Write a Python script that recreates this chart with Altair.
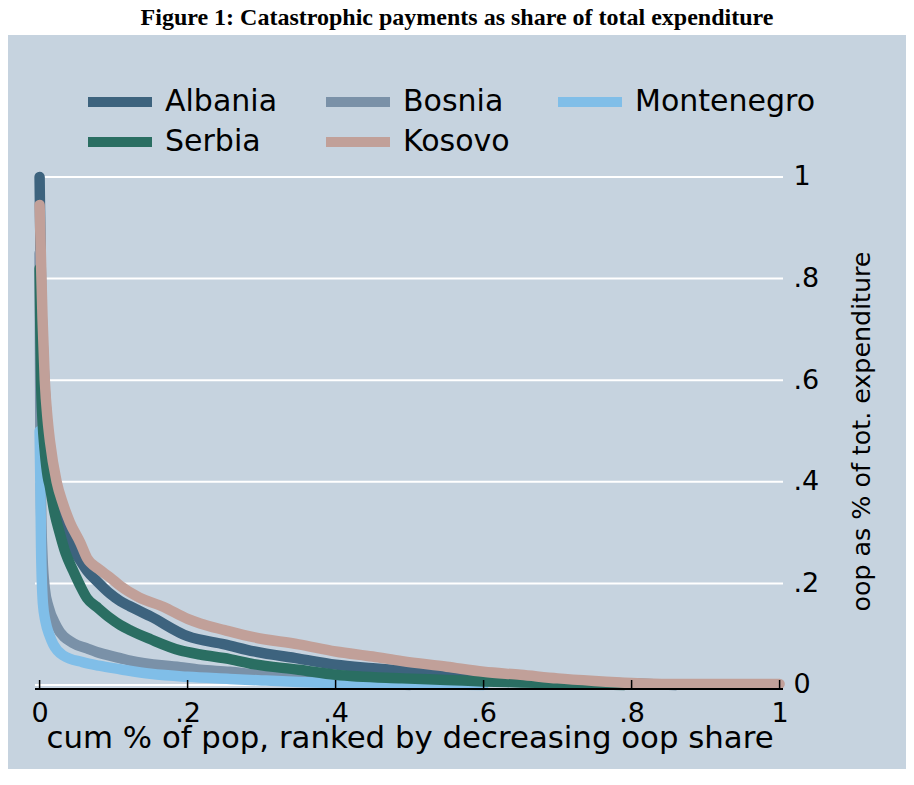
import altair as alt
import pandas as pd

# ---------------- data ----------------
countries = ["Albania", "Bosnia", "Montenegro", "Serbia", "Kosovo"]
colors = ["#3d637e", "#7a91a8", "#80bee8", "#2a6e62", "#c1a099"]

albania_x = [0, 0.001, 0.002, 0.004, 0.007, 0.011, 0.016, 0.023, 0.032, 0.041, 0.055, 0.064,
             0.077, 0.095, 0.109, 0.122, 0.15, 0.2, 0.25, 0.29, 0.35, 0.4, 0.45, 0.49, 0.533,
             0.6, 0.65, 0.7, 0.75, 0.8, 0.86]
albania_y = [1.0, 0.88, 0.78, 0.68, 0.58, 0.5, 0.43, 0.37, 0.32, 0.28, 0.245, 0.225,
             0.205, 0.18, 0.165, 0.155, 0.135, 0.096, 0.08, 0.066, 0.052, 0.04, 0.033, 0.028, 0.022,
             0.014, 0.01, 0.007, 0.005, 0.003, 0.0]

bosnia_x = [0, 0.001, 0.002, 0.004, 0.007, 0.012, 0.023, 0.046, 0.064, 0.077, 0.109, 0.122,
            0.19, 0.217, 0.257, 0.289, 0.35, 0.4, 0.45, 0.5]
bosnia_y = [0.85, 0.5, 0.35, 0.25, 0.19, 0.154, 0.115, 0.082, 0.072, 0.065, 0.053, 0.048,
            0.035, 0.03, 0.026, 0.021, 0.013, 0.008, 0.004, 0.0]

montenegro_x = [0, 0.001, 0.002, 0.0045, 0.008, 0.0136, 0.0185, 0.032, 0.058, 0.08, 0.109,
                0.15, 0.2, 0.257, 0.3, 0.35, 0.4, 0.5, 0.6]
montenegro_y = [0.5, 0.4, 0.27, 0.16, 0.125, 0.097, 0.08, 0.058, 0.045, 0.038, 0.031,
                0.022, 0.016, 0.012, 0.009, 0.006, 0.004, 0.002, 0.0]

serbia_x = [0, 0.001, 0.002, 0.004, 0.007, 0.011, 0.014, 0.02, 0.027, 0.035, 0.045, 0.055,
            0.064, 0.077, 0.095, 0.109, 0.122, 0.15, 0.19, 0.217, 0.257, 0.289, 0.35, 0.4,
            0.49, 0.55, 0.6, 0.65, 0.7, 0.79]
serbia_y = [0.82, 0.7, 0.6, 0.52, 0.46, 0.41, 0.39, 0.34, 0.30, 0.26, 0.226, 0.195,
            0.171, 0.154, 0.132, 0.118, 0.108, 0.09, 0.068, 0.06, 0.051, 0.041, 0.03, 0.02,
            0.013, 0.01, 0.007, 0.005, 0.003, 0.0]

kosovo_x = [0, 0.002, 0.004, 0.007, 0.011, 0.014, 0.023, 0.032, 0.041, 0.055, 0.064, 0.08,
            0.095, 0.109, 0.135, 0.167, 0.2, 0.217, 0.25, 0.289, 0.35, 0.4, 0.45, 0.49, 0.55,
            0.6, 0.65, 0.7, 0.75, 0.8, 0.85, 1.0]
kosovo_y = [0.945, 0.83, 0.72, 0.6, 0.52, 0.48, 0.40, 0.355, 0.32, 0.28, 0.25, 0.228,
            0.212, 0.195, 0.172, 0.154, 0.13, 0.121, 0.108, 0.094, 0.08, 0.066, 0.056, 0.047, 0.036,
            0.026, 0.02, 0.013, 0.008, 0.004, 0.002, 0.002]

tick_values = [0, 0.2, 0.4, 0.6, 0.8, 1.0]

series = {
    "Albania": (albania_x, albania_y),
    "Bosnia": (bosnia_x, bosnia_y),
    "Montenegro": (montenegro_x, montenegro_y),
    "Serbia": (serbia_x, serbia_y),
    "Kosovo": (kosovo_x, kosovo_y),
}
rows = []
for c in countries:
    xs, ys = series[c]
    for xv, yv in zip(xs, ys):
        rows.append({"country": c, "x": xv, "y": yv})
df = pd.DataFrame(rows)
ticks_df = pd.DataFrame({"t": tick_values})

# ---------------- layout ----------------
W, H = 898, 734
FONT = "DejaVu Sans"
BG = "#c6d3df"

xscale = alt.Scale(domain=[-0.0427, 1.1708], nice=False, zero=False)
yscale = alt.Scale(domain=[-0.1654, 1.2795], nice=False, zero=False)
grid_lo, grid_hi = -0.0062, 1.0046
axis_y, tick_top = -0.0079, 0.0098

label_expr = "datum.value == 0 ? '0' : datum.value == 1 ? '1' : '.' + format(datum.value * 10, 'd')"

x_axis = alt.Axis(
    orient="bottom", offset=-80, values=tick_values, labelExpr=label_expr,
    domain=False, ticks=False, grid=False, labelPadding=11,
    labelFont=FONT, labelFontSize=27, labelColor="black",
    title="cum % of pop, ranked by decreasing oop share",
    titleFont=FONT, titleFontSize=30.8, titleFontWeight="normal", titleColor="black",
    titleX=401.6, titleY=58, titleBaseline="alphabetic", titleAlign="center",
)
y_axis = alt.Axis(
    orient="right", offset=-123, values=tick_values, labelExpr=label_expr,
    domain=False, ticks=False, grid=False, labelPadding=10,
    labelFont=FONT, labelFontSize=27, labelColor="black",
    title="oop as % of tot. expenditure",
    titleFont=FONT, titleFontSize=25.3, titleFontWeight="normal", titleColor="black",
    titleAngle=270, titleX=86, titleY=396, titleBaseline="alphabetic", titleAlign="center",
)

grid = alt.Chart(ticks_df).mark_rule(color="white", strokeWidth=2).encode(
    y=alt.Y("t:Q", scale=yscale, axis=y_axis),
    x=alt.XDatum(grid_lo, scale=xscale, axis=x_axis),
    x2=alt.X2Datum(grid_hi),
)

lines = alt.Chart(df).mark_line(
    strokeWidth=10.5, strokeCap="round", strokeJoin="round", interpolate="monotone"
).encode(
    x=alt.X("x:Q", scale=xscale, axis=x_axis),
    y=alt.Y("y:Q", scale=yscale, axis=y_axis),
    color=alt.Color(
        "country:N", sort=countries,
        scale=alt.Scale(domain=countries, range=colors),
        legend=alt.Legend(
            orient="none", legendX=92, legendY=47, columns=3, direction="horizontal",
            title=None, symbolType="M-2.1333,0H2.1333", symbolSize=900, symbolStrokeWidth=10,
            labelFont=FONT, labelFontSize=30, labelColor="black", labelOffset=25,
            labelLimit=400, columnPadding=28, rowPadding=-1, padding=0,
        ),
    ),
)

axis_line = alt.Chart(ticks_df).mark_rule(color="black", strokeWidth=1.5).encode(
    x=alt.XDatum(grid_lo, scale=xscale, axis=x_axis),
    x2=alt.X2Datum(grid_hi),
    y=alt.YDatum(axis_y, scale=yscale, axis=y_axis),
)

xticks = alt.Chart(ticks_df).mark_rule(color="black", strokeWidth=1.5).encode(
    x=alt.X("t:Q", scale=xscale, axis=x_axis),
    y=alt.YDatum(axis_y, scale=yscale, axis=y_axis),
    y2=alt.Y2Datum(tick_top),
)

chart = alt.layer(grid, lines, axis_line, xticks).properties(
    width=W, height=H,
    title=alt.TitleParams(
        "Figure 1: Catastrophic payments as share of total expenditure",
        font="Liberation Serif", fontSize=24, fontWeight="bold", color="black",
        anchor="middle", baseline="alphabetic", offset=-13.5,
    ),
    padding={"left": 0, "top": 27, "right": 0, "bottom": 0},
    autosize=alt.AutoSizeParams(type="none"),
    background="white",
).configure_view(fill=BG, stroke=None)

chart.save("out.html", embed_options={"renderer": "svg", "actions": False})
